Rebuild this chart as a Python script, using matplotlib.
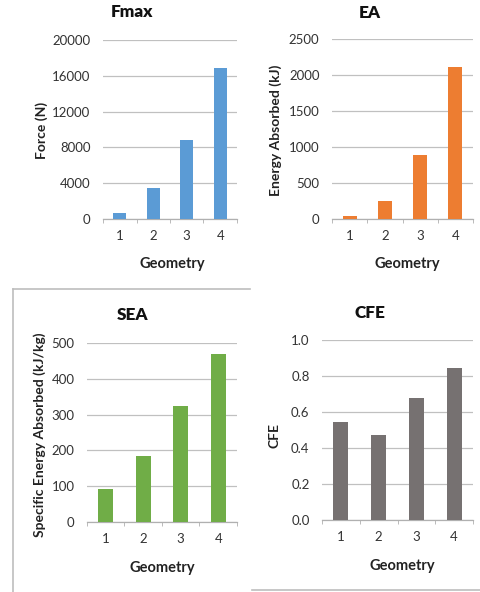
import matplotlib
matplotlib.use("Agg")
import matplotlib.pyplot as plt
from matplotlib.lines import Line2D

plt.rcParams['font.family'] = ['Lato', 'DejaVu Sans']

geometry = [1, 2, 3, 4]
fmax = [680, 3500, 8800, 16850]
ea = [46, 254, 889, 2115]
sea = [92, 185, 325, 468]
cfe = [0.543, 0.472, 0.676, 0.843]

titles = ["Fmax", "EA", "SEA", "CFE"]
ylabels = ["Force (N)", "Energy Absorbed (kJ)", "Specific Energy Absorbed (kJ/kg)", "CFE"]
xlabel = "Geometry"
yticks_list = [[0, 4000, 8000, 12000, 16000, 20000],
               [0, 500, 1000, 1500, 2000, 2500],
               [0, 100, 200, 300, 400, 500],
               [0.0, 0.2, 0.4, 0.6, 0.8, 1.0]]
ytick_fmt = ["{:.0f}", "{:.0f}", "{:.0f}", "{:.1f}"]
colors = ["#5B9BD5", "#ED7D31", "#70AD47", "#767171"]
series = [fmax, ea, sea, cfe]

W, H = 481, 592
fig = plt.figure(figsize=(W / 100, H / 100), dpi=100)

# pixel boxes: left, top, right, bottom
boxes = [(103, 40, 237, 219), (332, 39, 473, 219), (87, 343, 237, 522), (322, 340, 473, 520)]
title_pos = [(132, 12), (370, 13), (132, 315), (370, 313)]
ylabel_pos = [(42, 130), (276, 130), (40, 435), (275, 435)]
xlabel_pos = [(172, 264), (407, 264), (162, 568), (402, 566)]

def fx(x):
    return x / W

def fy(y):
    return 1 - y / H

for i in range(4):
    l, t, r, b = boxes[i]
    ax = fig.add_axes([fx(l), fy(b), (r - l) / W, (b - t) / H])
    ax.bar(geometry, series[i], width=0.4, color=colors[i], zorder=3)
    ax.set_xlim(0.5, 4.5)
    yt = yticks_list[i]
    ax.set_ylim(yt[0], yt[-1])
    ax.set_yticks(yt)
    ax.set_yticklabels([ytick_fmt[i].format(v) for v in yt], fontsize=9.5, color="#333333")
    ax.set_xticks(geometry)
    ax.set_xticklabels([str(g) for g in geometry], fontsize=9.5, color="#333333")
    ax.tick_params(axis='x', length=0, pad=8)
    ax.tick_params(axis='y', length=0, pad=9)
    ax.set_xticks([0.5, 1.5, 2.5, 3.5, 4.5], minor=True)
    ax.tick_params(axis='x', which='minor', length=3, color="#b0b0b0", direction='out')
    for s in ['top', 'right', 'left']:
        ax.spines[s].set_visible(False)
    ax.spines['bottom'].set_color("#b0b0b0")
    ax.spines['bottom'].set_linewidth(0.9)
    ax.yaxis.grid(True, color="#c0c0c0", linewidth=0.9, zorder=0)
    ax.set_axisbelow(True)

    fig.text(fx(title_pos[i][0]), fy(title_pos[i][1]), titles[i], fontsize=12.3,
             fontweight='heavy', ha='center', va='center', color="#111111")
    fig.text(fx(ylabel_pos[i][0]), fy(ylabel_pos[i][1]), ylabels[i], fontsize=10,
             fontweight='bold', ha='center', va='center', rotation=90, color="#222222")
    fig.text(fx(xlabel_pos[i][0]), fy(xlabel_pos[i][1]), xlabel, fontsize=10.5,
             fontweight='bold', ha='center', va='center', color="#222222")

# border lines
lc = "#bdbdbd"
fig.add_artist(Line2D([fx(13), fx(250)], [fy(289), fy(289)], color=lc, lw=1.2))
fig.add_artist(Line2D([fx(13), fx(13)], [fy(289), fy(592)], color=lc, lw=1.2))
fig.add_artist(Line2D([fx(252), fx(481)], [fy(590), fy(590)], color=lc, lw=1.2))

fig.savefig("out.png", dpi=100)
